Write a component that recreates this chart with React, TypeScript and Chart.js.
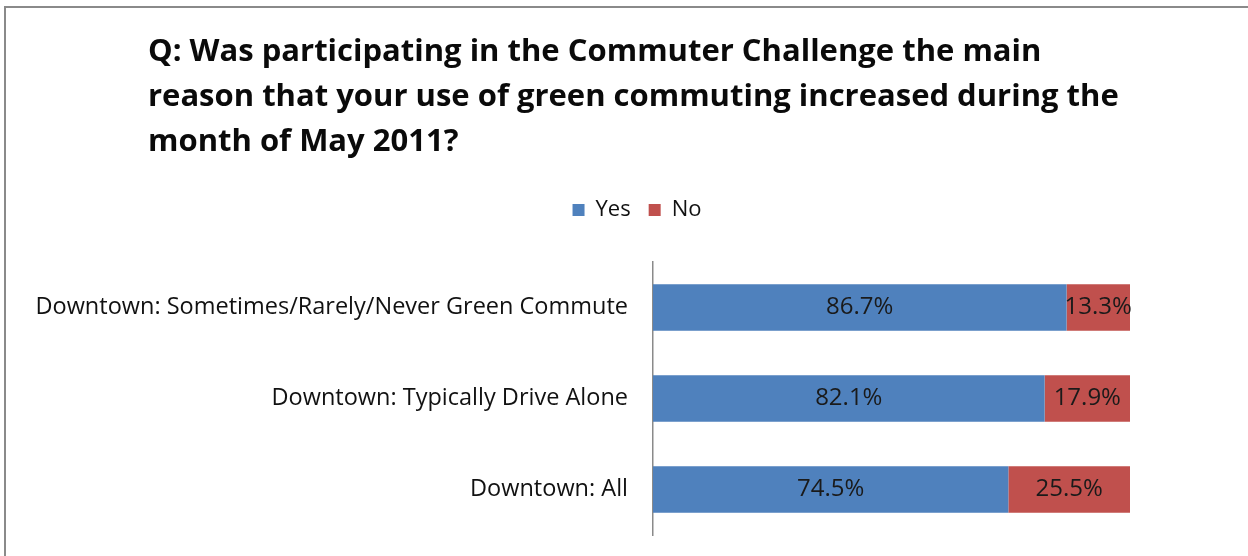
import React, { useEffect, useRef } from "react";
import { Chart, registerables } from "chart.js";

Chart.register(...registerables);

const categories = [
  "Downtown: Sometimes/Rarely/Never Green Commute",
  "Downtown: Typically Drive Alone",
  "Downtown: All",
];
const yesValues = [86.7, 82.1, 74.5];
const noValues = [13.3, 17.9, 25.5];
const titleLines = [
  "Q: Was participating in the Commuter Challenge the main",
  "reason that your use of green commuting increased during the",
  "month of May 2011?",
];

const FONT = "'Open Sans', Lato, sans-serif";

const legendMargin = {
  id: "legendMargin",
  beforeInit(chart: any) {
    const legend = chart.legend;
    if (!legend) return;
    const origFit = legend.fit;
    legend.fit = function () {
      origFit.call(this);
      this.height += 31;
    };
  },
  afterLayout(chart: any) {
    if (chart.titleBlock) chart.titleBlock.left = 148;
    if (chart.legend) chart.legend.left = 144;
  },
};

const dataLabels = {
  id: "dataLabels",
  afterDatasetsDraw(chart: any) {
    const ctx = chart.ctx;
    ctx.save();
    ctx.font = `24px ${FONT}`;
    ctx.fillStyle = "#1a1a1a";
    ctx.textAlign = "center";
    ctx.textBaseline = "middle";
    chart.data.datasets.forEach((ds: any, di: number) => {
      const meta = chart.getDatasetMeta(di);
      meta.data.forEach((el: any, i: number) => {
        const v = ds.data[i];
        const cx = (el.x + el.base) / 2;
        ctx.fillText(`${v.toFixed(1)}%`, cx, el.y);
      });
    });
    ctx.restore();
  },
};

export default function App() {
  const ref = useRef<HTMLCanvasElement | null>(null);
  useEffect(() => {
    if (!ref.current) return;
    const chart = new Chart(ref.current, {
      type: "bar",
      data: {
        labels: categories,
        datasets: [
          { label: "Yes", data: yesValues, backgroundColor: "#4F81BD", borderWidth: 0 },
          { label: "No", data: noValues, backgroundColor: "#C0504D", borderWidth: 0 },
        ],
      },
      options: {
        indexAxis: "y",
        responsive: false,
        animation: false,
        layout: { padding: { left: 30, right: 118, top: 0, bottom: 21 } },
        datasets: { bar: { categoryPercentage: 1, barPercentage: 0.51 } } as any,
        scales: {
          x: {
            stacked: true,
            min: 0,
            max: 100,
            display: false,
          },
          y: {
            stacked: true,
            grid: { display: false, drawTicks: true, tickLength: 25 },
            border: { display: true, color: "#8a8a8a", width: 1.5 },
            ticks: {
              color: "#111",
              font: { family: FONT, size: 23.5 },
              padding: 0,
            },
            afterFit(scale: any) {
              scale.width = 653 - 30;
            },
          },
        },
        plugins: {
          title: {
            display: true,
            text: titleLines,
            align: "start",
            color: "#0a0a0a",
            font: { family: FONT, size: 31, weight: "bold", lineHeight: "45px" },
            padding: { top: 30, bottom: 16 },
          },
          legend: {
            display: true,
            position: "top",
            labels: {
              boxWidth: 12,
              boxHeight: 12,
              padding: 18,
              color: "#111",
              font: { family: FONT, size: 22 },
            },
          },
          tooltip: { enabled: false },
        },
      },
      plugins: [legendMargin, dataLabels],
    });
    return () => chart.destroy();
  }, []);

  return (
    <div style={{ position: "absolute", left: 0, top: 0, width: 1248, height: 556, background: "#fff", overflow: "hidden" }}>
      <canvas ref={ref} width={1248} height={556} style={{ display: "block" }} />
      <div
        style={{
          position: "absolute",
          left: 4,
          top: 6,
          width: 1260,
          height: 600,
          borderTop: "2px solid #8a8a8a",
          borderLeft: "2px solid #8a8a8a",
          pointerEvents: "none",
        }}
      />
    </div>
  );
}
